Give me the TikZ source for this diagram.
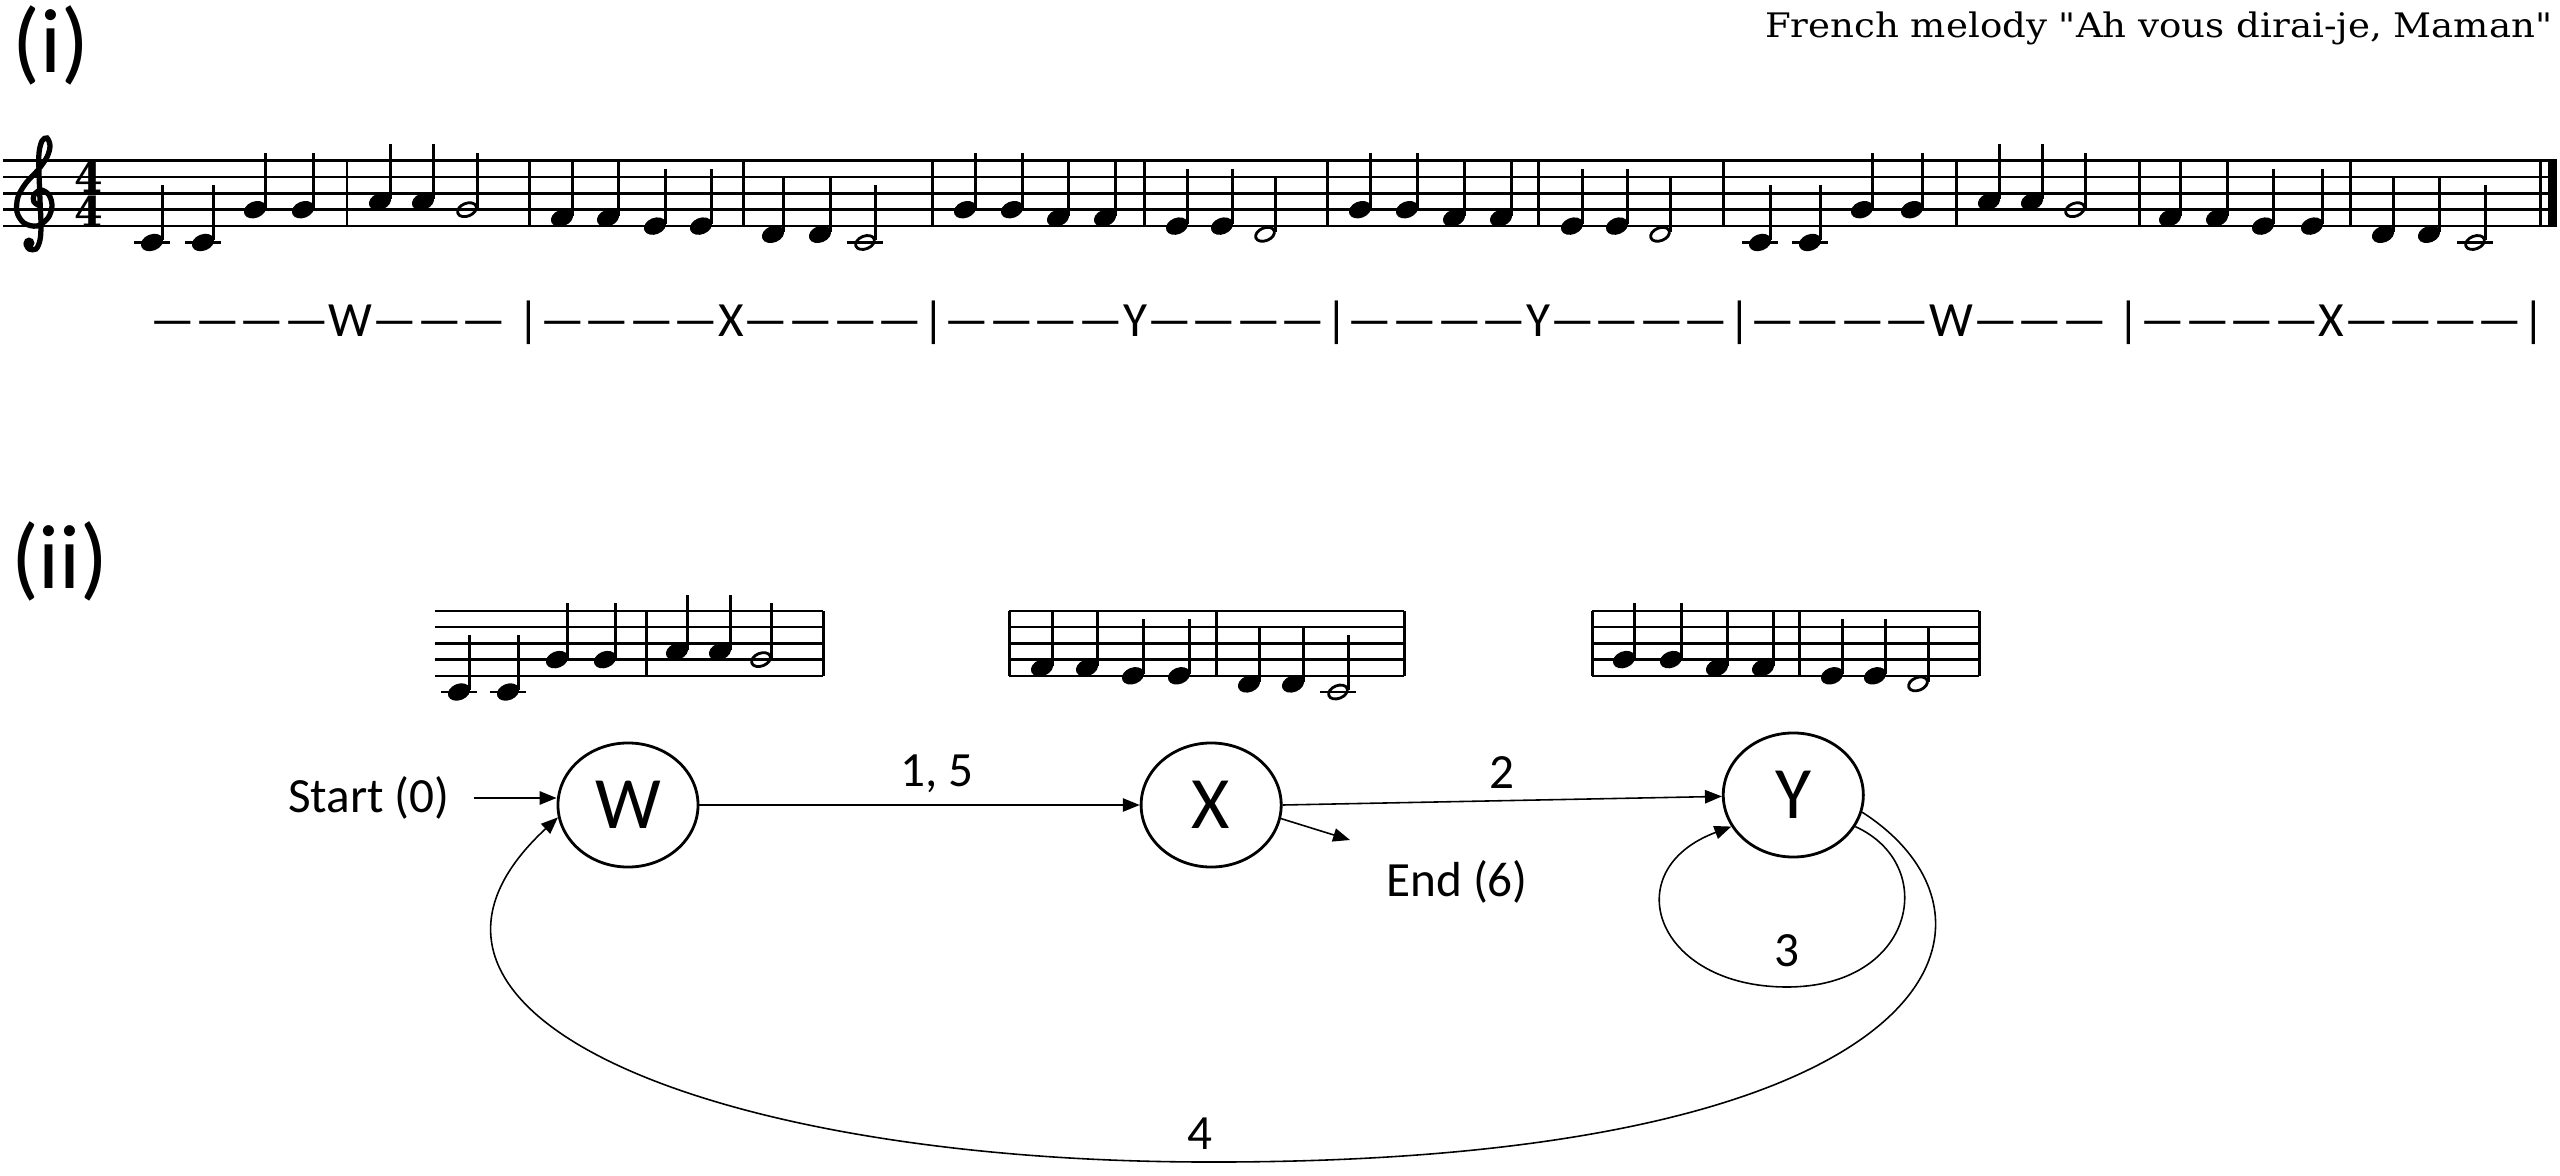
\documentclass[tikz,border=0pt]{standalone}
\usepackage{fontspec}
\newfontfamily\calibfont{Carlito}
\newfontfamily\titlefont[FakeStretch=1.1]{DejaVu Serif}
\newfontfamily\timefont{DejaVu Serif}
\usetikzlibrary{arrows.meta,shapes.geometric,positioning}

% music helpers, coordinates in pixels (y grows downwards)
\newcommand\stafflines[2]{%
  \foreach \k in {0,...,4}
    \draw[staffline] (#1,{\ybot-\k*\stsp}) -- (#2,{\ybot-\k*\stsp});}
\newcommand\barlines[1]{%
  \foreach \b in {#1}
    \draw[barline] (\b,\ybot) -- (\b,{\ybot-4*\stsp});}
\newcommand\ledger[1]{\draw[staffline] ({#1-18},{\ybot+\stsp}) -- ({#1+18},{\ybot+\stsp});}
\newcommand\qnote[2]{%
  \fill[rotate around={22:(#1,{\ybot-#2*\stsp/2})}] (#1,{\ybot-#2*\stsp/2}) ellipse [x radius=11.5, y radius=8.2];
  \draw[stem] ({#1+10.5},{\ybot-#2*\stsp/2-2}) -- ({#1+10.5},{\ybot-#2*\stsp/2-57});
  \ifnum#2<-1 \ledger{#1}\fi}
\newcommand\hnote[2]{%
  \draw[line width=0.8pt, rotate around={22:(#1,{\ybot-#2*\stsp/2})}] (#1,{\ybot-#2*\stsp/2}) ellipse [x radius=9.8, y radius=6.4];
  \draw[stem] ({#1+10.5},{\ybot-#2*\stsp/2-2}) -- ({#1+10.5},{\ybot-#2*\stsp/2-57});
  \ifnum#2<-1 \ledger{#1}\fi}

\begin{document}
\begin{tikzpicture}[x=0.01cm, y=-0.01cm,
    staffline/.style={line width=0.7pt},
    barline/.style={line width=0.85pt},
    stem/.style={line width=0.6pt},
    state/.style={draw, ellipse, line width=0.8pt, minimum width=1.4cm,
        minimum height=1.24cm, inner sep=0pt, font=\calibfont\fontsize{21}{24}\selectfont},
    lbl/.style={font=\calibfont\fontsize{14}{17}\selectfont},
    timesig/.style={inner sep=0pt, font=\timefont\bfseries\fontsize{11.7}{12}\selectfont},
    link/.style={line width=0.45pt, -{Triangle[length=4.8pt, width=3.8pt]}}]
\useasboundingbox (0,0) rectangle (2560,1176);

% Panel labels & title
\node[font=\calibfont\fontsize{26}{30}\selectfont] (lbl_i) at (51,45) {(i)};
\node[font=\calibfont\fontsize{26}{30}\selectfont] (lbl_ii) at (60,561) {(ii)};
\node[anchor=base east, inner sep=0pt, font=\titlefont\fontsize{9.6}{11}\selectfont]
    (title) at (2553,38) {French melody "Ah vous dirai-je, Maman"};

% Full melody
\def\ybot{226.1}\def\stsp{16.4}
\stafflines{3}{2557}
\barlines{347,529,743,932,1144,1327,1538,1723,1956,2139,2350,2540}
\fill (2548,\ybot) rectangle (2557,{\ybot-4*\stsp});
\draw[line width=1.5pt, line cap=round] plot[smooth, tension=0.55] coordinates {
    (40,206) (34,202) (34,195) (41,190) (49,195) (52,206) (48,218) (37,226)
    (24,223) (17,212) (18,197) (26,183) (38,170) (47,157) (50,146) (47,138)
    (42,141) (39,153) (39,172) (40,200) (41,225) (40,240) (36,249) (29,249) (26,244)};
\fill (29,243) circle [radius=5.5];
\node[timesig, anchor=south] (time_top) at (89,193) {4};
\node[timesig, anchor=north] (time_bot) at (89,195) {4};
\foreach \x/\p in {152/-2,203/-2,255/2,303/2, 380/3,423/3, 562/1,608/1,655/0,701/0,
    773/-1,820/-1, 965/2,1012/2,1058/1,1105/1, 1177/0,1222/0, 1360/2,1407/2,1454/1,1501/1,
    1572/0,1617/0, 1760/-2,1810/-2,1862/2,1912/2, 1989/3,2032/3, 2170/1,2217/1,2263/0,2312/0,
    2383/-1,2429/-1}
  \qnote{\x}{\p};
\foreach \x/\p in {467/2,865/-2,1265/-1,1660/-1,2075/2,2475/-2}
  \hnote{\x}{\p};
\node[anchor=west, inner sep=0pt, font=\calibfont\fontsize{14}{16}\selectfont] (segline) at (150,323)
    {————W——— |————X————|————Y————|————Y————|————W——— |————X————|};

% Phrase W, X and Y
\def\ybot{675.8}\def\stsp{16.2}
\stafflines{435}{823}
\barlines{646,823}
\foreach \x/\p in {459/-2,508/-2,557/2,605/2,677/3,720/3} \qnote{\x}{\p};
\hnote{761}{2}
\stafflines{1009}{1404}
\barlines{1009,1216,1404}
\foreach \x/\p in {1042/1,1087/1,1133/0,1179/0,1249/-1,1293/-1} \qnote{\x}{\p};
\hnote{1338}{-2}
\stafflines{1592}{1979}
\barlines{1592,1799,1979}
\foreach \x/\p in {1624/2,1671/2,1717/1,1763/1,1832/0,1875/0} \qnote{\x}{\p};
\hnote{1918}{-1}

% States
\node[state] (state_w) at (628,805) {W};
\node[state, right=4.4cm of state_w] (state_x) {X};
\node[state, right=4.39cm of state_x, yshift=0.1cm] (state_y) {Y};
\node[lbl, left=0.83cm of state_w, inner xsep=0.23cm, inner ysep=0pt, yshift=0.07cm] (start_lbl) {Start (0)};
\node[lbl] (end_lbl) at (1457,882) {End (6)};
\coordinate (end_pt) at (1350,840);
\coordinate (loop3_bot) at (1787,987);
\coordinate (loop4_bot) at (1200,1162);

% Transitions
\draw[link] (start_lbl) -- (start_lbl -| state_w.west);
\draw[link] (state_w) -- node[lbl, above, pos=.54] {1, 5} (state_x);
\draw[link] (state_x.east) -- node[lbl, above, pos=.5] {2} (state_y);
\draw[link] (state_x.-11) -- (end_pt);
\draw[link] (state_y.-27) .. controls (1940,865) and (1915,987) .. (loop3_bot)
    node[lbl, above, yshift=0.08cm] {3}
    .. controls (1655,987) and (1615,870) .. (state_y.-153);
\draw[link] (state_y.-14) .. controls (2030,920) and (1950,1165) .. (loop4_bot)
    node[lbl, above] {4}
    .. controls (700,1160) and (350,1010) .. (state_w.-170);
\end{tikzpicture}
\end{document}
